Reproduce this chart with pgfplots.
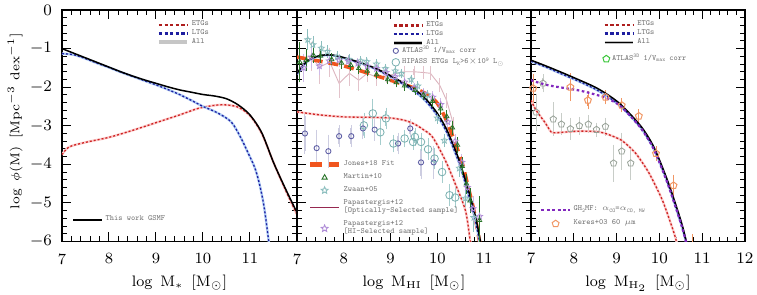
\documentclass[border=0pt]{standalone}
\usepackage{graphicx}
\usepackage{pgfplots}
\pgfplotsset{compat=1.18}
\usetikzlibrary{plotmarks}

\newcommand{\lsup}[1]{\raisebox{1.3pt}{\fontsize{2.8}{3}\selectfont #1}}
\newcommand{\lsub}[1]{\raisebox{-0.6pt}{\fontsize{2.8}{3}\selectfont #1}}
\newcommand{\lsym}[1]{\scalebox{0.8}{$#1$}}
\newcommand{\lsun}{\raisebox{-0.6pt}{\scalebox{0.55}{$\odot$}}}

\definecolor{etgred}{RGB}{205,35,35}
\definecolor{ltgblue}{RGB}{30,30,160}
\definecolor{redglow}{RGB}{252,205,205}
\definecolor{blueglow}{RGB}{175,205,245}
\definecolor{jones}{RGB}{240,85,30}
\definecolor{ghpurple}{RGB}{130,40,190}
\definecolor{martin}{RGB}{40,115,40}
\definecolor{zwaan}{RGB}{140,190,190}
\definecolor{paphi}{RGB}{175,140,215}
\definecolor{papopt}{RGB}{220,180,190}
\definecolor{papoptleg}{RGB}{150,40,80}
\definecolor{atlasc}{RGB}{95,95,165}
\definecolor{atlaserr}{RGB}{205,205,225}
\definecolor{hipass}{RGB}{120,175,175}
\definecolor{hipasserr}{RGB}{165,205,205}
\definecolor{keres}{RGB}{240,150,100}
\definecolor{atlasthree}{RGB}{150,160,150}
\definecolor{atlasthreeerr}{RGB}{200,205,200}

\pgfdeclareplotmark{ostar}{%
 \pgfpathmoveto{\pgfpointpolar{90}{\pgfplotmarksize}}%
 \pgfpathlineto{\pgfpointpolar{126}{0.45\pgfplotmarksize}}%
 \pgfpathlineto{\pgfpointpolar{162}{\pgfplotmarksize}}%
 \pgfpathlineto{\pgfpointpolar{198}{0.45\pgfplotmarksize}}%
 \pgfpathlineto{\pgfpointpolar{234}{\pgfplotmarksize}}%
 \pgfpathlineto{\pgfpointpolar{270}{0.45\pgfplotmarksize}}%
 \pgfpathlineto{\pgfpointpolar{306}{\pgfplotmarksize}}%
 \pgfpathlineto{\pgfpointpolar{342}{0.45\pgfplotmarksize}}%
 \pgfpathlineto{\pgfpointpolar{18}{\pgfplotmarksize}}%
 \pgfpathlineto{\pgfpointpolar{54}{0.45\pgfplotmarksize}}%
 \pgfpathclose\pgfusepathqstroke}

\pgfplotsset{
 panel/.style={
  scale only axis, height=115.75pt, xmin=7, xmax=12, ymin=-6, ymax=0,
  xtick={7,...,12}, ytick={-6,...,0}, minor x tick num=4, minor y tick num=4,
  tick align=inside, major tick length=4.5pt, minor tick length=2.5pt,
  every tick/.style={black, line width=0.5pt},
  axis line style={line width=0.6pt},
  tick label style={font=\fontsize{7.8}{9}\selectfont},
  xticklabel style={yshift=-2.5pt},
  yticklabel style={xshift=-1.5pt},
  xlabel style={font=\fontsize{7.6}{9}\selectfont, at={(axis description cs:0.5,-0.179)}, anchor=center},
 },
 leg/.style={
  legend cell align=left,
  legend style={draw=none, fill=none, font=\fontsize{4}{4.2}\selectfont\ttfamily, text=black!55,
     inner sep=0pt, outer sep=0pt, row sep=0pt, nodes={inner ysep=0.2pt, inner xsep=1.2pt}},
  legend image code/.code={\draw[##1] (0cm,0cm) -- (0.5cm,0cm);},
 },
 markleg/.style={legend image code/.code={\draw[mark repeat=2,mark phase=2,##1] plot coordinates {(0cm,0cm) (0.25cm,0cm) (0.5cm,0cm)};}},
 legonly/.style={hide axis, scale only axis, height=115.75pt, xmin=7, xmax=12, ymin=-6, ymax=0, leg},
 etgcurve/.style={etgred, line width=0.65pt, dash pattern=on 1pt off 1pt, smooth, preaction={draw, redglow, line width=1.2pt, solid}},
 ltgcurve/.style={ltgblue, line width=0.65pt, dash pattern=on 1pt off 1pt, smooth, preaction={draw, blueglow, line width=1.2pt, solid}},
 allcurve/.style={black, line width=0.75pt, smooth},
 etgleg/.style={etgred!85!black, line width=1.2pt, dash pattern=on 1.6pt off 1.2pt},
 ltgleg/.style={ltgblue, line width=1.2pt, dash pattern=on 1.6pt off 1.2pt},
}

\begin{document}
\begin{tikzpicture}
\useasboundingbox (-31pt,-26.75pt) rectangle (347.5pt,120.75pt);

% ---------------- Panel 1 ----------------
\begin{axis}[panel, width=117.5pt, at={(0pt,0pt)},
  xticklabels={7,8,9,10,11,},
  ylabel={log\ \,$\phi$(M)\ \,[Mpc$^{-3}$\ dex$^{-1}$]},
  ylabel style={font=\fontsize{6.4}{8}\selectfont, at={(axis description cs:-0.2,0.52)}, anchor=center},
  xlabel={log\ \,M$_*$\ \,[M$_\odot$]},
  leg, legend style={at={(axis description cs:0.404,0.955)}, anchor=north west}]
\addplot[etgcurve, forget plot] coordinates {(7.0,-3.75)(7.15,-3.55)(7.5,-3.43)(8.0,-3.30)(8.5,-3.12)(9.0,-2.92)(9.5,-2.72)(9.9,-2.55)(10.25,-2.47)(10.5,-2.46)(10.75,-2.52)(11.0,-2.74)(11.25,-3.2)(11.5,-3.95)(11.75,-4.65)(12.0,-5.3)};
\addplot[ltgcurve, forget plot] coordinates {(7.0,-1.13)(7.25,-1.16)(7.5,-1.26)(7.75,-1.38)(8.0,-1.49)(8.25,-1.61)(8.5,-1.72)(8.75,-1.83)(9.0,-1.94)(9.25,-2.06)(9.5,-2.19)(9.75,-2.34)(10.0,-2.5)(10.3,-2.66)(10.6,-2.9)(10.8,-3.3)(10.95,-3.68)(11.1,-4.08)(11.2,-4.5)(11.3,-5.1)(11.4,-6.0)(11.45,-6.4)};
\addplot[allcurve, forget plot] coordinates {(7.0,-1.0)(7.25,-1.12)(7.5,-1.24)(7.75,-1.36)(8.0,-1.48)(8.25,-1.6)(8.5,-1.71)(8.75,-1.81)(9.0,-1.9)(9.25,-1.99)(9.5,-2.07)(9.75,-2.13)(10.0,-2.19)(10.25,-2.23)(10.5,-2.3)(10.75,-2.46)(11.0,-2.72)(11.25,-3.18)(11.5,-3.95)(11.75,-4.62)(12.0,-5.25)};
\addlegendimage{etgleg}\addlegendentry{ETGs}
\addlegendimage{ltgleg}\addlegendentry{LTGs}
\addlegendimage{gray!45, line width=2pt}\addlegendentry{All}
\end{axis}
\begin{axis}[legonly, width=117.5pt, at={(0pt,0pt)},
  legend style={at={(axis description cs:0.043,0.093)}, anchor=west}]
\addlegendimage{black, line width=1.3pt}\addlegendentry{This work GSMF}
\end{axis}

% ---------------- Panel 2 ----------------
\begin{axis}[panel, width=117pt, at={(117.5pt,0pt)},
  xticklabels={7,8,9,10,11,}, yticklabels={},
  xlabel={log\ \,M$_{\rm HI}$\ \,[M$_\odot$]},
  leg, legend style={at={(axis description cs:0.406,0.952)}, anchor=north west}]
% Papastergis optical
\addplot[papopt, line width=0.45pt, forget plot, error bars/.cd, y dir=both, y explicit,
  error bar style={papopt!80, line width=0.5pt}, error mark=-, error mark options={papopt!80, mark size=1.5pt}]
  table[row sep=\\, x=x, y=y, y error=e]{x y e\\
7.06 -1.25 0.35\\ 7.3 -1.2 0.3\\ 7.48 -1.48 0.35\\ 7.7 -1.35 0.3\\ 7.9 -1.9 0.3\\ 8.12 -1.64 0.25\\
8.32 -1.82 0.2\\ 8.5 -1.64 0.15\\ 8.7 -1.74 0.15\\ 8.9 -1.72 0.1\\ 9.1 -1.65 0.1\\ 9.3 -1.6 0.08\\
9.5 -1.6 0.08\\ 9.7 -1.62 0.08\\ 9.85 -1.64 0.1\\ 10.05 -1.95 0.1\\ 10.2 -2.35 0.12\\ 10.35 -3.0 0.15\\};
% ATLAS3D
\addplot[only marks, mark=o, mark size=1.3pt, atlasc, line width=0.45pt, forget plot, error bars/.cd, y dir=both, y explicit,
  error bar style={atlaserr, line width=0.8pt}, error mark=-, error mark options={atlaserr, mark size=1.6pt, line width=0.5pt}]
  table[row sep=\\, x=x, y=y, y error=e]{x y e\\
7.17 -3.2 0.45\\ 7.42 -3.58 0.4\\ 7.67 -3.66 0.35\\ 7.9 -3.27 0.2\\ 8.16 -3.27 0.2\\ 8.41 -3.07 0.2\\
8.66 -3.1 0.2\\ 9.16 -3.46 0.2\\ 9.42 -3.07 0.15\\ 9.65 -3.95 0.35\\ 9.92 -3.95 0.35\\};
% HIPASS
\addplot[only marks, mark=o, mark size=1.9pt, hipass, line width=0.4pt, forget plot, error bars/.cd, y dir=both, y explicit,
  error bar style={hipasserr, line width=0.5pt}, error mark=-, error mark options={hipasserr, mark size=1.6pt}]
  table[row sep=\\, x=x, y=y, y error=e]{x y e\\
8.43 -2.99 0.25\\ 8.62 -2.68 0.3\\ 8.78 -3.17 0.25\\ 8.9 -2.81 0.2\\ 9.06 -3.46 0.15\\ 9.3 -3.33 0.15\\
9.48 -3.42 0.12\\ 9.52 -3.29 0.15\\ 9.65 -3.42 0.15\\ 9.8 -3.61 0.2\\ 9.94 -3.85 0.2\\ 10.1 -4.2 0.2\\
10.26 -4.8 0.2\\ 10.38 -4.86 0.2\\};
% Zwaan
\addplot[only marks, mark=ostar, mark size=1.6pt, zwaan, line width=0.4pt, forget plot, error bars/.cd, y dir=both, y explicit,
  error bar style={zwaan, line width=0.4pt}, error mark=-, error mark options={zwaan, mark size=1.4pt}]
  table[row sep=\\, x=x, y=y, y error=e]{x y e\\
7.23 -0.77 0.2\\ 7.34 -0.9 0.15\\ 7.52 -0.99 0.12\\ 7.65 -1.08 0.1\\ 7.86 -1.21 0.08\\ 8.11 -1.28 0.06\\
8.36 -1.32 0.05\\ 8.49 -1.34 0.05\\ 8.7 -1.4 0.05\\ 8.89 -1.52 0.05\\ 9.1 -1.58 0.05\\ 9.23 -1.65 0.05\\
9.44 -1.8 0.05\\ 9.58 -1.97 0.05\\ 9.79 -2.2 0.06\\ 10.0 -2.8 0.08\\ 10.15 -3.38 0.1\\ 10.47 -4.1 0.15\\
10.6 -4.88 0.2\\ 10.78 -5.38 0.3\\};
% Papastergis HI
\addplot[only marks, mark=ostar, mark size=1.6pt, paphi, line width=0.4pt, forget plot, error bars/.cd, y dir=both, y explicit,
  error bar style={paphi!60, line width=0.4pt}, error mark=-, error mark options={paphi!60, mark size=1.4pt}]
  table[row sep=\\, x=x, y=y, y error=e]{x y e\\
7.14 -1.5 0.3\\ 7.31 -1.22 0.2\\ 7.48 -1.45 0.15\\ 7.69 -1.32 0.12\\ 7.9 -1.3 0.1\\ 8.1 -1.33 0.08\\
8.3 -1.38 0.06\\ 8.5 -1.46 0.05\\ 8.7 -1.52 0.05\\ 8.9 -1.62 0.05\\ 9.1 -1.73 0.05\\ 9.3 -1.87 0.05\\
9.5 -2.02 0.05\\ 9.7 -2.16 0.06\\ 9.9 -2.26 0.08\\ 10.07 -2.45 0.1\\ 10.22 -2.9 0.1\\ 10.38 -3.4 0.12\\
10.52 -3.95 0.15\\ 10.64 -4.6 0.2\\ 10.76 -5.15 0.25\\ 10.9 -5.35 0.4\\};
% curves
\addplot[etgcurve, forget plot] coordinates {(7.0,-2.64)(7.5,-2.72)(8.0,-2.77)(8.5,-2.78)(9.0,-2.8)(9.3,-2.86)(9.5,-2.95)(9.7,-3.1)(9.9,-3.3)(10.17,-3.9)(10.38,-4.5)(10.6,-5.2)(10.7,-5.97)(10.75,-6.3)};
\addplot[jones, line width=1.8pt, dash pattern=on 5pt off 3pt, smooth, forget plot] coordinates {(7.0,-1.22)(7.5,-1.33)(8.0,-1.45)(8.5,-1.63)(9.0,-1.82)(9.45,-2.0)(9.8,-2.2)(10.0,-2.42)(10.17,-2.8)(10.35,-3.35)(10.53,-3.97)(10.65,-4.55)(10.78,-5.2)(10.9,-6.0)(10.95,-6.3)};
\addplot[ltgcurve, forget plot] coordinates {(7.0,-1.66)(7.15,-1.42)(7.3,-1.27)(7.5,-1.19)(7.7,-1.17)(7.9,-1.21)(8.1,-1.28)(8.4,-1.39)(8.75,-1.57)(9.1,-1.8)(9.5,-2.1)(9.75,-2.36)(10.0,-2.74)(10.2,-3.17)(10.4,-3.76)(10.5,-4.1)(10.65,-4.72)(10.8,-5.4)(10.9,-6.0)(10.94,-6.3)};
\addplot[allcurve, forget plot] coordinates {(7.0,-1.64)(7.15,-1.4)(7.3,-1.26)(7.5,-1.18)(7.7,-1.16)(7.9,-1.2)(8.1,-1.27)(8.4,-1.38)(8.75,-1.55)(9.1,-1.77)(9.5,-2.05)(9.75,-2.3)(10.0,-2.68)(10.2,-3.1)(10.4,-3.68)(10.5,-4.02)(10.65,-4.62)(10.8,-5.28)(10.92,-6.0)(10.96,-6.3)};
% Martin
\addplot[only marks, mark=triangle, mark size=1.3pt, martin, line width=0.4pt, forget plot, error bars/.cd, y dir=both, y explicit,
  error bar style={martin, line width=0.55pt}, error mark=-, error mark options={martin, mark size=1.5pt}]
  table[row sep=\\, x=x, y=y, y error=e]{x y e\\
7.06 -1.35 0.45\\ 7.2 -1.3 0.2\\ 7.35 -1.17 0.12\\ 7.5 -1.19 0.1\\ 7.74 -1.28 0.08\\ 7.95 -1.37 0.07\\
8.15 -1.43 0.06\\ 8.32 -1.51 0.06\\ 8.5 -1.58 0.05\\ 8.7 -1.67 0.05\\ 8.94 -1.8 0.05\\ 9.12 -1.88 0.05\\
9.3 -1.96 0.05\\ 9.52 -2.08 0.05\\ 9.7 -2.2 0.06\\ 9.9 -2.36 0.07\\ 10.07 -2.56 0.08\\ 10.2 -2.76 0.08\\
10.32 -3.05 0.1\\ 10.43 -3.5 0.12\\ 10.53 -4.05 0.15\\ 10.62 -4.5 0.18\\ 10.7 -4.94 0.25\\ 10.9 -5.45 0.55\\};
\addlegendimage{etgleg}\addlegendentry{ETGs}
\addlegendimage{ltgleg}\addlegendentry{LTGs}
\addlegendimage{black, line width=0.7pt, preaction={draw, gray!50, line width=1.8pt}}\addlegendentry{All}
\end{axis}
\begin{axis}[legonly, width=117pt, at={(117.5pt,0pt)}, markleg,
  legend style={at={(axis description cs:0.406,0.845)}, anchor=north west, row sep=0.8pt}]
\addlegendimage{only marks, mark=o, mark size=1.3pt, atlasc, line width=0.45pt}\addlegendentry{ATLAS\lsup{3D} 1/V\lsub{max} corr}
\addlegendimage{only marks, mark=o, mark size=1.9pt, hipass, line width=0.4pt}\addlegendentry{HIPASS ETGs L\lsub{K}>6\lsym{\times}10\lsup{9} L\lsun}
\end{axis}
\begin{axis}[legonly, width=117pt, at={(117.5pt,0pt)},
  legend style={at={(axis description cs:0.047,0.35)}, anchor=north west, row sep=2pt, cells={align=left}},
  legend image code/.code={\draw[mark repeat=2,mark phase=2,#1] plot coordinates {(0cm,0cm) (0.25cm,0cm) (0.5cm,0cm)};}]
\addlegendimage{jones, line width=2.4pt, dash pattern=on 6pt off 3.5pt}\addlegendentry{Jones+18 Fit}
\addlegendimage{only marks, mark=triangle, mark size=1.5pt, martin, line width=0.45pt}\addlegendentry{Martin+10}
\addlegendimage{only marks, mark=ostar, mark size=1.8pt, zwaan, line width=0.45pt}\addlegendentry{Zwaan+05}
\addlegendimage{papoptleg, line width=0.6pt}\addlegendentry{Papastergis+12\\\mbox{[Optically-Selected sample]}}
\addlegendimage{only marks, mark=ostar, mark size=1.8pt, paphi, line width=0.45pt}\addlegendentry{Papastergis+12\\\mbox{[HI-Selected sample]}}
\end{axis}

% ---------------- Panel 3 ----------------
\begin{axis}[panel, width=107pt, at={(234.5pt,0pt)},
  yticklabels={},
  xlabel={log\ \,M$_{\rm H_2}$\ \,[M$_\odot$]},
  leg, legend style={at={(axis description cs:0.336,0.955)}, anchor=north west}]
% ATLAS3D H2
\addplot[only marks, mark=pentagon, mark size=1.7pt, atlasthree, line width=0.4pt, forget plot, error bars/.cd, y dir=both, y explicit,
  error bar style={atlasthreeerr, line width=0.5pt}, error mark=-, error mark options={atlasthreeerr, mark size=1.6pt}]
  table[row sep=\\, x=x, y=y, y error=e]{x y e\\
7.12 -2.65 0.4\\ 7.28 -1.9 0.15\\ 7.52 -2.83 0.35\\ 7.71 -2.96 0.2\\ 7.92 -3.08 0.2\\ 8.13 -3.0 0.15\\
8.34 -2.96 0.15\\ 8.53 -3.1 0.1\\ 8.74 -3.02 0.15\\ 8.93 -3.97 0.4\\ 9.12 -3.66 0.4\\ 9.33 -3.97 0.35\\};
% Keres
\addplot[only marks, mark=pentagon, mark size=1.8pt, keres, line width=0.5pt, forget plot, error bars/.cd, y dir=both, y explicit,
  error bar style={keres, line width=0.5pt}, error mark=-, error mark options={keres, mark size=1.6pt}]
  table[row sep=\\, x=x, y=y, y error=e]{x y e\\
7.05 -2.03 0.3\\ 7.92 -2.0 0.28\\ 8.33 -2.34 0.15\\ 8.74 -2.26 0.1\\ 9.12 -2.47 0.1\\ 9.52 -2.75 0.1\\
9.92 -3.72 0.1\\ 10.33 -4.55 0.2\\ 10.77 -6.1 0.2\\};
\addplot[etgcurve, tension=0.4, forget plot] coordinates {(7.0,-2.34)(7.12,-2.6)(7.33,-2.92)(7.47,-3.16)(7.6,-3.18)(8.1,-3.14)(8.5,-3.15)(8.74,-3.2)(9.12,-3.38)(9.45,-3.72)(9.76,-4.23)(10.07,-4.93)(10.3,-5.64)(10.4,-6.0)(10.45,-6.3)};
\addplot[ltgcurve, forget plot] coordinates {(7.0,-1.33)(7.35,-1.48)(7.7,-1.65)(8.1,-1.84)(8.5,-2.05)(8.8,-2.25)(9.1,-2.5)(9.5,-2.96)(9.7,-3.27)(9.9,-3.67)(10.2,-4.5)(10.5,-5.52)(10.62,-6.0)(10.68,-6.3)};
\addplot[allcurve, forget plot] coordinates {(7.0,-1.3)(7.35,-1.45)(7.7,-1.61)(8.1,-1.8)(8.5,-2.0)(8.8,-2.2)(9.1,-2.45)(9.5,-2.92)(9.7,-3.22)(9.9,-3.62)(10.2,-4.45)(10.5,-5.45)(10.63,-6.0)(10.7,-6.3)};
\addplot[ghpurple, line width=1.1pt, dash pattern=on 1.3pt off 1.3pt, smooth, forget plot] coordinates {(7.0,-1.82)(7.4,-1.95)(8.1,-2.08)(8.5,-2.19)(8.8,-2.3)(9.1,-2.5)(9.5,-2.97)(9.7,-3.28)(9.9,-3.68)(10.2,-4.52)(10.5,-5.52)(10.62,-6.0)(10.68,-6.3)};
\addlegendimage{etgleg}\addlegendentry{ETGs}
\addlegendimage{ltgleg}\addlegendentry{LTGs}
\addlegendimage{black, line width=0.7pt, preaction={draw, gray!50, line width=1.8pt}}\addlegendentry{All}
\end{axis}
\begin{axis}[legonly, width=107pt, at={(234.5pt,0pt)}, markleg,
  legend style={at={(axis description cs:0.336,0.81)}, anchor=north west}]
\addlegendimage{only marks, mark=pentagon, mark size=1.8pt, green!55!gray, line width=0.5pt}\addlegendentry{ATLAS\lsup{3D} 1/V\lsub{max} corr}
\end{axis}
\begin{axis}[legonly, width=107pt, at={(234.5pt,0pt)},
  legend style={at={(axis description cs:0.042,0.155)}, anchor=north west, row sep=2.5pt},
  legend image code/.code={\draw[mark repeat=2,mark phase=2,#1] plot coordinates {(0cm,0cm) (0.25cm,0cm) (0.5cm,0cm)};}]
\addlegendimage{ghpurple, line width=1.4pt, dash pattern=on 1.5pt off 1.2pt}\addlegendentry{GH\lsub{2}MF: \lsym{\alpha}\lsub{CO}=\lsym{\alpha}\lsub{CO, MW}}
\addlegendimage{only marks, mark=pentagon, mark size=1.8pt, keres, line width=0.5pt}\addlegendentry{Keres+03 60 \lsym{\mu}m}
\end{axis}
\end{tikzpicture}
\end{document}
